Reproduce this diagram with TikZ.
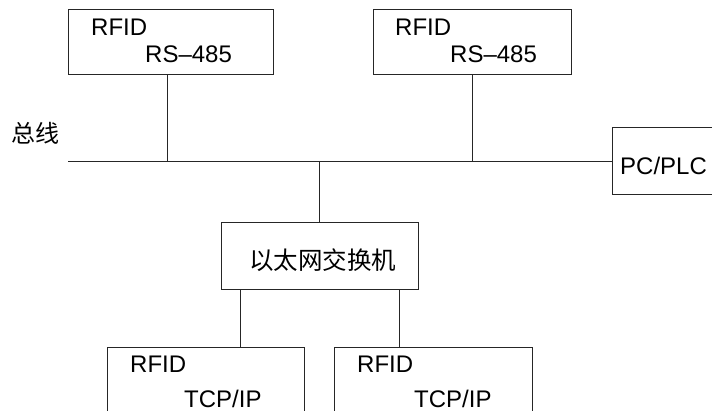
\documentclass[tikz,border=0pt]{standalone}
\usepackage{fontspec}
\setmainfont{Liberation Sans}
\newfontfamily\cjk{Noto Sans CJK SC}
\begin{document}
\begin{tikzpicture}[x=1pt,y=-1pt,
  box/.style={draw=black!85,line width=0.9pt,rectangle,inner sep=0pt},
  wire/.style={draw=black!85,line width=0.9pt},
  lbl/.style={inner sep=0pt,anchor=base west,font=\fontsize{24}{28}\selectfont},
  cn/.style={inner sep=0pt,anchor=center,font=\cjk\fontsize{24.5}{28}\selectfont}]
\useasboundingbox (0,0) rectangle (712,411);
\clip (0,0) rectangle (712,411);
% boxes
\node[box,minimum width=205pt,minimum height=65pt] (tl) at (170.5,41.5) {};
\node[box,minimum width=198pt,minimum height=65pt] (tr) at (472,41.5) {};
\node[box,minimum width=118pt,minimum height=67pt] (plc) at (671,160.5) {};
\node[box,minimum width=197pt,minimum height=67pt] (sw) at (319.5,255.5) {};
\node[box,minimum width=197pt,minimum height=93pt] (bl) at (205.5,393.5) {};
\node[box,minimum width=198pt,minimum height=93pt] (br) at (433,393.5) {};
% texts
\node[lbl] (tlA) at (91,36) {RFID};
\node[lbl] (tlB) at (145,63) {RS--485};
\node[lbl] (trA) at (395,36) {RFID};
\node[lbl] (trB) at (450,63) {RS--485};
\node[lbl] (plcT) at (620,175) {PC/PLC};
\node[cn] (swT) at (322.5,260) {以太网交换机};
\node[cn,font=\cjk\fontsize{24}{28}\selectfont] (bus) at (36,133.5) {总线};
\node[lbl] (blA) at (130,373) {RFID};
\node[lbl] (blB) at (184,407) {TCP/IP};
\node[lbl] (brA) at (357,373) {RFID};
\node[lbl] (brB) at (414,407) {TCP/IP};
% coordinates
\coordinate (busL) at (68,161);
\coordinate (jTL) at (167,161);
\coordinate (jTR) at (472,161);
\coordinate (jSW) at (319,161);
\coordinate (xL) at (240,0);
\coordinate (xR) at (399,0);
% connectors
\draw[wire] (busL) -- (plc.west |- busL);
\draw[wire] (tl.south -| jTL) -- (jTL);
\draw[wire] (tr.south -| jTR) -- (jTR);
\draw[wire] (jSW) -- (sw.north -| jSW);
\draw[wire] (sw.south -| xL) -- (bl.north -| xL);
\draw[wire] (sw.south -| xR) -- (br.north -| xR);
\end{tikzpicture}
\end{document}
